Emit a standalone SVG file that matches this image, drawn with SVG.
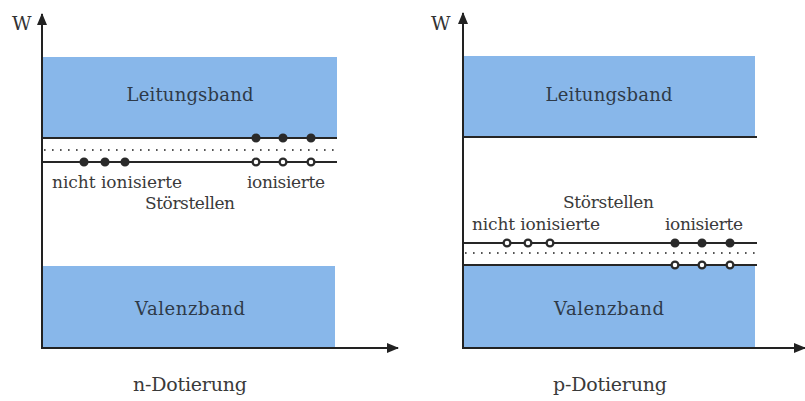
<svg xmlns="http://www.w3.org/2000/svg" width="805" height="401" viewBox="0 0 805 401">
  <style>
    .band { fill: #88b7ea; }
    .level { stroke: #262626; stroke-width: 2; fill: none; }
    .dotted { stroke: #555; stroke-width: 2; stroke-dasharray: 1.6 6.4; fill: none; }
    .axis { stroke: #222; stroke-width: 2; fill: none; }
    .lbl { font-family: "DejaVu Serif", "Liberation Serif", serif; font-size: 17px; fill: #3a3a3a; }
    .cap { font-family: "DejaVu Serif", "Liberation Serif", serif; font-size: 19px; fill: #3a3a3a; }
    .bandlbl { font-family: "DejaVu Serif", "Liberation Serif", serif; font-size: 18px; fill: #2e3a48; }
    .axlbl { font-family: "DejaVu Serif", "Liberation Serif", serif; font-size: 19px; fill: #333; }
    .full { fill: #2a2a2a; stroke: #2a2a2a; stroke-width: 1.5; }
    .hollow { fill: #ffffff; stroke: #2a2a2a; stroke-width: 2.3; }
  </style>
  <defs>
    <marker id="arrow" viewBox="0 0 12 10" refX="11" refY="5" markerWidth="12" markerHeight="10" markerUnits="userSpaceOnUse" orient="auto">
      <path d="M0,0 L12,5 L0,10 Z" fill="#222"/>
    </marker>
  </defs>

  <rect width="805" height="401" fill="#ffffff"/>

  <!-- n-type panel -->
  <g id="n-conduction-band">
    <rect class="band" x="43" y="57" width="294" height="81"/>
    <text class="bandlbl" x="190" y="101" text-anchor="middle" textLength="127">Leitungsband</text>
  </g>
  <g id="n-valence-band">
    <rect class="band" x="43" y="266" width="292" height="82"/>
    <text class="bandlbl" x="190" y="315" text-anchor="middle" textLength="110">Valenzband</text>
  </g>
  <g id="n-levels">
    <line class="level" x1="42" y1="138" x2="337" y2="138"/>
    <line class="dotted" x1="44" y1="150" x2="337" y2="150"/>
    <line class="level" x1="42" y1="162" x2="337" y2="162"/>
  </g>
  <g id="n-carriers">
    <circle class="full" cx="256" cy="138" r="3.8"/>
    <circle class="full" cx="283" cy="138" r="3.8"/>
    <circle class="full" cx="311" cy="138" r="3.8"/>
    <circle class="full" cx="84" cy="162" r="3.8"/>
    <circle class="full" cx="105" cy="162" r="3.8"/>
    <circle class="full" cx="125" cy="162" r="3.8"/>
    <circle class="hollow" cx="256" cy="162" r="3.4"/>
    <circle class="hollow" cx="283" cy="162" r="3.4"/>
    <circle class="hollow" cx="311" cy="162" r="3.4"/>
  </g>
  <g id="n-labels">
    <text class="lbl" x="52" y="188" textLength="130">nicht ionisierte</text>
    <text class="lbl" x="247" y="188" textLength="78">ionisierte</text>
    <text class="lbl" x="145" y="209" textLength="90">Störstellen</text>
    <text class="cap" x="190" y="391" text-anchor="middle" textLength="114">n-Dotierung</text>
  </g>

  <!-- p-type panel -->
  <g id="p-conduction-band">
    <rect class="band" x="463" y="56" width="292" height="81"/>
    <text class="bandlbl" x="609" y="101" text-anchor="middle" textLength="127">Leitungsband</text>
  </g>
  <g id="p-valence-band">
    <rect class="band" x="463" y="265" width="292" height="83"/>
    <text class="bandlbl" x="609" y="315" text-anchor="middle" textLength="110">Valenzband</text>
  </g>
  <g id="p-levels">
    <line class="level" x1="463" y1="137" x2="757" y2="137"/>
    <line class="level" x1="463" y1="243" x2="757" y2="243"/>
    <line class="dotted" x1="465" y1="253" x2="757" y2="253"/>
    <line class="level" x1="463" y1="265" x2="757" y2="265"/>
  </g>
  <g id="p-carriers">
    <circle class="hollow" cx="507" cy="243" r="3.4"/>
    <circle class="hollow" cx="528" cy="243" r="3.4"/>
    <circle class="hollow" cx="550" cy="243" r="3.4"/>
    <circle class="full" cx="675" cy="243" r="3.8"/>
    <circle class="full" cx="702" cy="243" r="3.8"/>
    <circle class="full" cx="730" cy="243" r="3.8"/>
    <circle class="hollow" cx="675" cy="265" r="3.4"/>
    <circle class="hollow" cx="702" cy="265" r="3.4"/>
    <circle class="hollow" cx="730" cy="265" r="3.4"/>
  </g>
  <g id="p-labels">
    <text class="lbl" x="563" y="208" textLength="91">Störstellen</text>
    <text class="lbl" x="472" y="230" textLength="128">nicht ionisierte</text>
    <text class="lbl" x="665" y="230" textLength="78">ionisierte</text>
    <text class="cap" x="610" y="391" text-anchor="middle" textLength="114">p-Dotierung</text>
  </g>

  <!-- axes -->
  <g id="axes">
    <line class="axis" x1="42" y1="349" x2="42" y2="14" marker-end="url(#arrow)"/>
    <line class="axis" x1="41" y1="348" x2="398" y2="348" marker-end="url(#arrow)"/>
    <text class="axlbl" x="12" y="30">W</text>
    <line class="axis" x1="463" y1="349" x2="463" y2="13" marker-end="url(#arrow)"/>
    <line class="axis" x1="462" y1="348" x2="805" y2="348" marker-end="url(#arrow)"/>
    <text class="axlbl" x="431" y="30">W</text>
  </g>
</svg>
